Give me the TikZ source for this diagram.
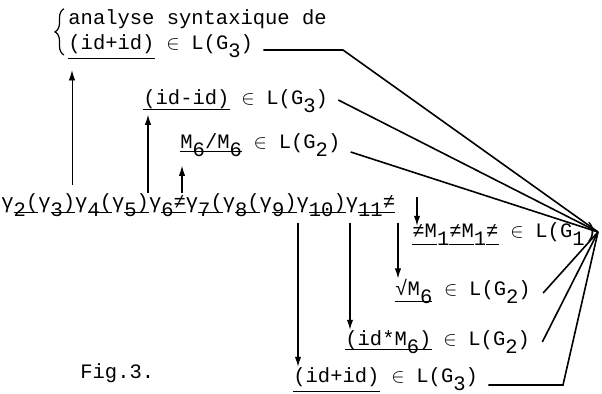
\documentclass[tikz,border=0pt]{standalone}
\usepackage{fontspec}
\newfontfamily\typew{Liberation Mono}
\usetikzlibrary{arrows.meta, decorations.pathreplacing, calc}
\newsavebox\ulbox
\newcommand\ul[2][3pt]{\sbox\ulbox{#2}\rlap{\rule[-#1]{\wd\ulbox}{0.55pt}}\usebox\ulbox}
\newcommand\lowr[1]{\raisebox{-0.4em}{#1}}
\newcommand\elt{\makebox[0.6em]{$\in$}}

\begin{document}
\begin{tikzpicture}[
  x=0.5pt, y=-0.5pt,
  txt/.style={font=\fontsize{10.25}{12}\typew, inner sep=0pt, anchor=base west},
  arr/.style={-{Latex[length=5pt,width=3.2pt]}, line width=0.55pt},
  conn/.style={line width=0.8pt}
]
\useasboundingbox (0,0) rectangle (602,393);

% upper results
\node[txt] (anal) at (68,24) {analyse syntaxique de};
\node[txt] (top3) at (68,49) {\ul[5pt]{(id+id)} \elt{} L(G\lowr{3})};
\node[txt] (dif3) at (143,104) {\ul{(id-id)} \elt{} L(G\lowr{3})};
\node[txt] (div2) at (180,148) {\ul[2pt]{M\lowr{6}/M\lowr{6}} \elt{} L(G\lowr{2})};
\draw[decorate, decoration={brace, amplitude=4.5pt}, line width=0.6pt]
  ([xshift=-2pt,yshift=-3pt]top3.base west) -- ([xshift=-2pt]anal.north west);

% the sentence
\node[txt] (seq) at (1,208) {γ\ul[2.5pt]{\lowr{2}(}γ\ul[2.5pt]{\lowr{3})}γ\ul[2.5pt]{\lowr{4}(}γ\ul[2.5pt]{\lowr{5})}γ\ul[2.5pt]{\lowr{6}≠}γ\ul[2.5pt]{\lowr{7}(}γ\ul[2.5pt]{\lowr{8}(}γ\ul[2.5pt]{\lowr{9})}γ\ul[2.5pt]{\lowr{10})}γ\ul[2.5pt]{\lowr{11}≠}};

% lower results
\node[txt] (neq1) at (412,237) {\ul[4pt]{≠M}\lowr{1}\ul[4pt]{≠M}\lowr{1}\ul[4pt]{≠} \elt{} L(G\lowr{1})};
\node[txt] (rac2) at (395,295) {\ul[3.5pt]{√M\lowr{6}} \elt{} L(G\lowr{2})};
\node[txt] (mul2) at (345,345) {\ul[2.5pt]{(id*M\lowr{6})} \elt{} L(G\lowr{2})};
\node[txt] (add3) at (293,382) {\ul[5pt]{(id+id)} \elt{} L(G\lowr{3})};
\node[txt] (fig) at (80,378) {Fig.3.};

\coordinate (conv) at (598,232);
\coordinate (k1) at (343,50);
\coordinate (k2) at (563,385);

% arrows out of the sentence
\draw[arr, line width=0.4pt] ([xshift=2pt,yshift=4pt]top3.south west |- seq.north) -- ([xshift=2pt,yshift=-5.5pt]top3.south west);
\draw[arr] ([xshift=2.5pt]dif3.south west |- seq.north) -- ([xshift=2.5pt,yshift=-1pt]dif3.south west);
\draw[arr] ([xshift=1pt]div2.south west |- seq.north) -- ([xshift=1pt,yshift=-4.5pt]div2.south west);
\draw[arr] ([xshift=2.5pt,yshift=-3pt]add3.north west |- seq.south) -- ([xshift=2.5pt]add3.north west);
\draw[arr] ([xshift=2.5pt,yshift=-3pt]mul2.north west |- seq.south) -- ([xshift=2.5pt]mul2.north west);
\draw[arr] ([xshift=1.5pt,yshift=-3pt]rac2.north west |- seq.south) -- ([xshift=1.5pt]rac2.north west);
\draw[arr] ([xshift=2.5pt,yshift=-2pt]neq1.north west |- seq.north) -- ([xshift=2.5pt,yshift=-2pt]neq1.north west);

% lines to the common point
\draw[conn] ([xshift=5pt,yshift=-0.5pt]top3.base east) -- (k1) -- (conv);
\draw[conn] ([xshift=5pt,yshift=2pt]dif3.base east) -- (conv);
\draw[conn] ([xshift=5pt,yshift=-2pt]div2.base east) -- (conv);
\draw[conn] ([xshift=6pt,yshift=1pt]rac2.base east) -- (conv);
\draw[conn] ([xshift=6pt,yshift=1.5pt]mul2.base east) -- (conv);
\draw[conn] ([xshift=5pt,yshift=-1.5pt]add3.base east) -- (k2) -- (conv);
\end{tikzpicture}
\end{document}
